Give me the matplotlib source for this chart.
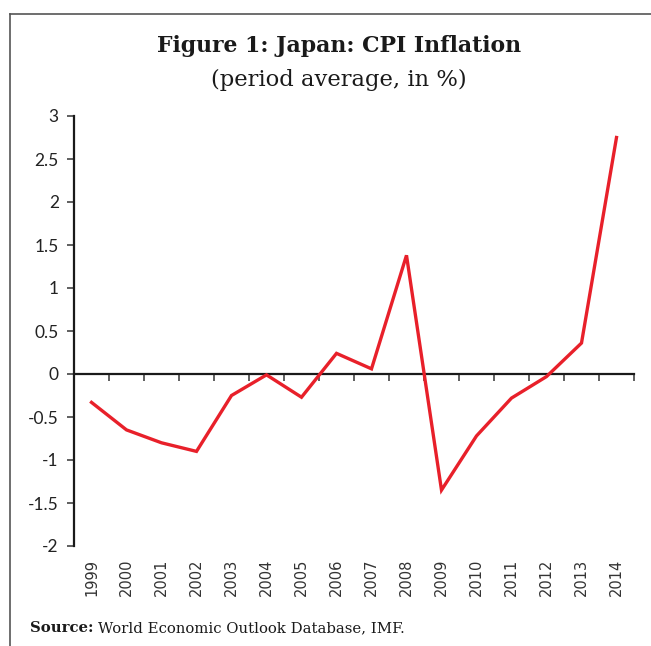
import matplotlib
matplotlib.use("Agg")
import matplotlib.pyplot as plt
from matplotlib.lines import Line2D
import numpy as np

# Japan CPI inflation, period average (%)
years = ["1999", "2000", "2001", "2002", "2003", "2004", "2005", "2006",
         "2007", "2008", "2009", "2010", "2011", "2012", "2013", "2014"]
cpi = [-0.33, -0.65, -0.80, -0.90, -0.25, -0.01, -0.27, 0.24,
       0.06, 1.38, -1.35, -0.72, -0.28, -0.03, 0.36, 2.75]
y_ticks = [3, 2.5, 2, 1.5, 1, 0.5, 0, -0.5, -1, -1.5, -2]

serif = "DejaVu Serif"
sans = "Lato"

fig = plt.figure(figsize=(6.51, 6.46), dpi=100)
ax = fig.add_axes([74 / 651, 1 - 546 / 646, 560 / 651, 430 / 646])

x = np.arange(len(years))
ax.plot(x, cpi, color="#e8202a", lw=2.4, solid_joinstyle="miter")

ax.set_xlim(-0.5, len(years) - 0.5)
ax.set_ylim(-2, 3)
ax.set_yticks(y_ticks)
ax.set_yticklabels([f"{v:g}" for v in y_ticks], family=sans, fontsize=12.5, color="#222222")
ax.tick_params(axis="y", direction="out", length=5, width=1.2, color="#444444", pad=6)

ax.set_xticks(x)
ax.set_xticklabels(years, rotation=90, family="DejaVu Sans", fontsize=10.5, color="#333333")
ax.tick_params(axis="x", length=0, pad=9)

for s in ["top", "right", "bottom"]:
    ax.spines[s].set_visible(False)
ax.spines["left"].set_linewidth(1.6)
ax.spines["left"].set_color("#1a1a1a")

# zero line with category boundary ticks
zax = ax.secondary_xaxis(0, transform=ax.transData)
zax.set_xticks(np.arange(len(years) + 1) - 0.5)
zax.set_xticklabels([])
zax.tick_params(direction="out", length=5, width=1.2, color="#444444")
zax.spines["bottom"].set_linewidth(1.6)
zax.spines["bottom"].set_color("#1a1a1a")

# frame
fig.add_artist(Line2D([10 / 651, 1], [1 - 14 / 646, 1 - 14 / 646], color="#555555", lw=1.2))
fig.add_artist(Line2D([10 / 651, 10 / 651], [1 - 14 / 646, 0], color="#555555", lw=1.2))

fig.text(339 / 651, 1 - 46 / 646, "Figure 1: Japan: CPI Inflation", family=serif,
         fontsize=15.8, fontweight="bold", ha="center", va="center", color="#1a1a1a")
fig.text(339 / 651, 1 - 80 / 646, "(period average, in %)", family=serif,
         fontsize=16.3, ha="center", va="center", color="#1a1a1a")

src = fig.text(30 / 651, 1 - 628 / 646, "Source:", family=serif, fontsize=10.7,
               fontweight="bold", ha="left", va="center", color="#1a1a1a")
fig.canvas.draw()
bb = src.get_window_extent()
fig.text(bb.x1 / 651 + 4 / 651, 1 - 628 / 646,
         "World Economic Outlook Database, IMF.", family=serif, fontsize=10.7,
         ha="left", va="center", color="#1a1a1a")

fig.savefig("out.png", dpi=100)
